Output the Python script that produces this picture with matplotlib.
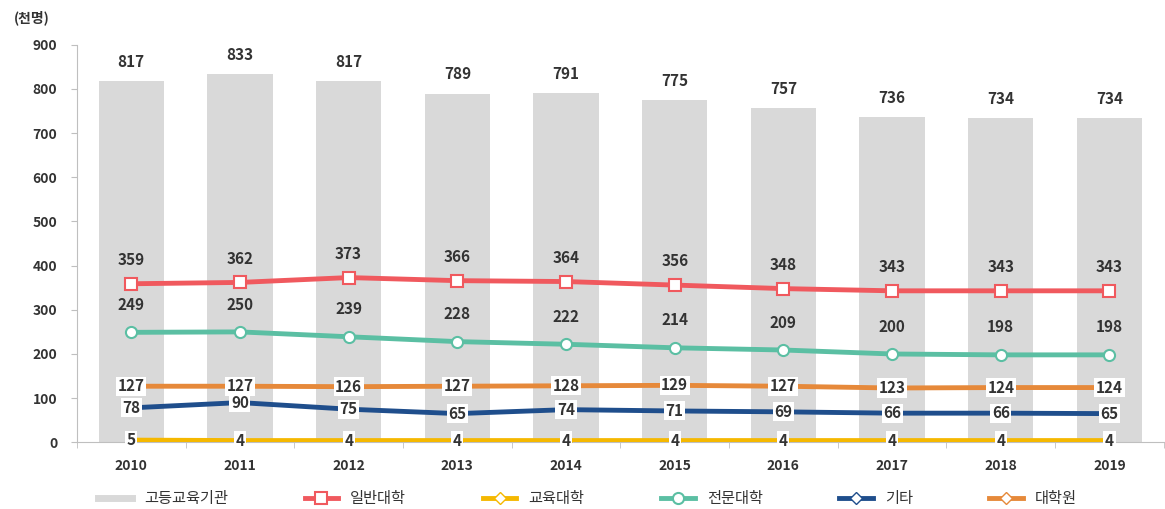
import matplotlib.pyplot as plt
import numpy as np

plt.rcParams['font.family'] = ['Noto Sans CJK KR', 'DejaVu Sans']

years = ['2010', '2011', '2012', '2013', '2014', '2015', '2016', '2017', '2018', '2019']
total = [817, 833, 817, 789, 791, 775, 757, 736, 734, 734]
general = [359, 362, 373, 366, 364, 356, 348, 343, 343, 343]
education = [5, 4, 4, 4, 4, 4, 4, 4, 4, 4]
junior = [249, 250, 239, 228, 222, 214, 209, 200, 198, 198]
other = [78, 90, 75, 65, 74, 71, 69, 66, 66, 65]
graduate = [127, 127, 126, 127, 128, 129, 127, 123, 124, 124]

fig = plt.figure(figsize=(11.65, 5.09), dpi=100)
ax = fig.add_axes([0.066, 0.131, 0.933, 0.781])
x = np.arange(len(years))
txt = '#333333'

bars = ax.bar(x, total, width=0.6, color='#d9d9d9', label='고등교육기관', zorder=1)
for xi, v in zip(x, total):
    ax.text(xi, v + 44, str(v), ha='center', va='center', fontsize=11, fontweight='bold', color=txt)

h1, = ax.plot(x, general, color='#f0595e', lw=3.5, marker='s', ms=8, mfc='white', mec='#f0595e', mew=1.5,
              label='일반대학', zorder=3)
h2, = ax.plot(x, education, color='#f5b800', lw=3.5, marker='D', ms=6, mfc='white', mec='#f5b800',
              label='교육대학', zorder=3)
h3, = ax.plot(x, junior, color='#5bbfa3', lw=3.5, marker='o', ms=8, mfc='white', mec='#5bbfa3', mew=1.5,
              label='전문대학', zorder=3)
h4, = ax.plot(x, other, color='#1f4e8c', lw=3.5, marker='D', ms=6, mfc='white', mec='#1f4e8c',
              label='기타', zorder=3)
h5, = ax.plot(x, graduate, color='#e6893a', lw=3.5, marker='D', ms=6, mfc='white', mec='#e6893a',
              label='대학원', zorder=3)

for xi, v in zip(x, general):
    ax.text(xi, v + 54, str(v), ha='center', va='center', fontsize=11, fontweight='bold', color=txt, zorder=5)
for xi, v in zip(x, junior):
    ax.text(xi, v + 62, str(v), ha='center', va='center', fontsize=11, fontweight='bold', color=txt, zorder=5)
box = dict(boxstyle='square,pad=0.1', fc='white', ec='none')
for series in (graduate, other, education):
    for xi, v in zip(x, series):
        ax.text(xi, v, str(v), ha='center', va='center', fontsize=11, fontweight='bold', color=txt,
                bbox=box, zorder=5)

ax.set_xlim(-0.5, len(years) - 0.5)
ax.set_ylim(0, 900)
ax.set_yticks(range(0, 901, 100))
ax.set_xticks(x)
ax.set_xticklabels(years)
ax.set_xticks(np.arange(-0.5, len(years)), minor=True)
ax.tick_params(axis='x', which='major', length=0, pad=12)
ax.tick_params(axis='x', which='minor', length=4, color='#bfbfbf')
ax.tick_params(axis='y', length=4, color='#bfbfbf', pad=10)
for lab in ax.get_xticklabels() + ax.get_yticklabels():
    lab.set_fontweight('bold')
    lab.set_fontsize(10)
    lab.set_color(txt)
for s in ('top', 'right'):
    ax.spines[s].set_visible(False)
for s in ('left', 'bottom'):
    ax.spines[s].set_color('#bfbfbf')

fig.text(0.012, 0.965, '(천명)', fontsize=10, fontweight='bold', color=txt, ha='left', va='center')

bar_handle = plt.Line2D([], [], color='#d9d9d9', lw=5)
ax.legend([bar_handle, h1, h2, h3, h4, h5], ['고등교육기관', '일반대학', '교육대학', '전문대학', '기타', '대학원'],
          loc='upper center', bbox_to_anchor=(0.47, -0.085), ncol=6, frameon=False,
          fontsize=11, handlelength=2.2, columnspacing=5.0, labelcolor=txt)

fig.savefig('out.png', dpi=100)
